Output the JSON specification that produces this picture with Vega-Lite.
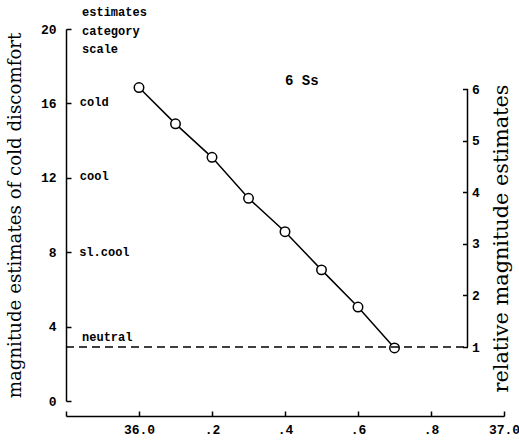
{
  "$schema": "https://vega.github.io/schema/vega-lite/v6.json",
  "width": 438,
  "height": 372,
  "autosize": {"type": "none"},
  "padding": {"left": 66, "top": 29, "right": 15, "bottom": 44},
  "background": "white",
  "config": {
    "view": {"stroke": null},
    "axis": {
      "grid": false,
      "domainColor": "black",
      "tickColor": "black",
      "labelColor": "black",
      "titleColor": "black",
      "labelFont": "Liberation Mono",
      "labelFontSize": 13,
      "labelFontWeight": "bold",
      "domainWidth": 1.5,
      "tickWidth": 1.5
    }
  },
  "datasets": {
    "points": [
      {"x": 36.0, "y": 16.85},
      {"x": 36.1, "y": 14.9},
      {"x": 36.2, "y": 13.1},
      {"x": 36.3, "y": 10.9},
      {"x": 36.4, "y": 9.1},
      {"x": 36.5, "y": 7.05},
      {"x": 36.6, "y": 5.05},
      {"x": 36.7, "y": 2.85}
    ],
    "labels": [
      {"x": 35.844, "y": 20.9, "label": "estimates"},
      {"x": 35.844, "y": 19.9, "label": "category"},
      {"x": 35.844, "y": 18.95, "label": "scale"},
      {"x": 35.838, "y": 16.1, "label": "cold"},
      {"x": 35.838, "y": 12.1, "label": "cool"},
      {"x": 35.836, "y": 8.0, "label": "sl.cool"},
      {"x": 35.844, "y": 3.45, "label": "neutral"}
    ],
    "note": [
      {"x": 36.4, "y": 17.2, "label": "6 Ss"}
    ],
    "ref": [
      {"x": 35.8, "x2": 36.9, "rel": 1}
    ],
    "raxis": [
      {"x": 36.9, "rel": 1, "rel2": 6}
    ]
  },
  "resolve": {"scale": {"y": "independent"}},
  "layer": [
    {
      "encoding": {
        "x": {
          "field": "x",
          "type": "quantitative",
          "scale": {"domain": [35.8, 37.0], "nice": false, "zero": false},
          "axis": {
            "orient": "bottom",
            "offset": 15,
            "values": [35.8, 36.0, 36.2, 36.4, 36.6, 36.8, 37.0],
            "labelExpr": "datum.value < 35.9 ? '' : datum.value == 36 ? '36.0' : datum.value == 37 ? '37.0' : replace(format(datum.value, '.1f'), '36', '')",
            "tickSize": -5,
            "labelPadding": 12,
            "labelFlush": false,
            "labelOverlap": false,
            "title": null
          }
        },
        "y": {
          "field": "y",
          "type": "quantitative",
          "scale": {"domain": [0, 20], "nice": false, "zero": false},
          "axis": {
            "orient": "left",
            "values": [0, 4, 8, 12, 16, 20],
            "tickSize": -5,
            "labelPadding": 15,
            "title": "magnitude estimates of cold discomfort",
            "titleFont": "DejaVu Serif",
            "titleFontSize": 18.2,
            "titleFontWeight": "normal",
            "titleAngle": 270,
            "titleAlign": "center",
            "titleBaseline": "middle",
            "titleX": -51,
            "titleY": 186
          }
        }
      },
      "layer": [
        {
          "data": {"name": "points"},
          "mark": {"type": "line", "color": "black", "strokeWidth": 1.5}
        },
        {
          "data": {"name": "points"},
          "mark": {"type": "point", "shape": "circle", "filled": false, "fill": "white", "fillOpacity": 1, "stroke": "black", "strokeWidth": 1.5, "size": 90, "opacity": 1}
        },
        {
          "data": {"name": "labels"},
          "mark": {"type": "text", "align": "left", "baseline": "middle", "font": "Liberation Mono", "fontSize": 12, "fontWeight": "bold", "color": "black"},
          "encoding": {"text": {"field": "label"}}
        },
        {
          "data": {"name": "note"},
          "mark": {"type": "text", "align": "left", "baseline": "middle", "font": "Liberation Mono", "fontSize": 14, "fontWeight": "bold", "color": "black"},
          "encoding": {"text": {"field": "label"}}
        }
      ]
    },
    {
      "encoding": {
        "x": {"field": "x", "type": "quantitative", "scale": {"domain": [35.8, 37.0], "nice": false, "zero": false}},
        "y": {
          "field": "rel",
          "type": "quantitative",
          "scale": {"domain": [1, 6], "range": [318, 60], "nice": false, "zero": false},
          "axis": {
            "orient": "right",
            "offset": -36.5,
            "domain": false,
            "values": [1, 2, 3, 4, 5, 6],
            "tickSize": -5,
            "labelPadding": 9,
            "title": "relative magnitude estimates",
            "titleFont": "DejaVu Serif",
            "titleFontSize": 20.8,
            "titleFontWeight": "normal",
            "titleAngle": 270,
            "titleAlign": "center",
            "titleBaseline": "middle",
            "titleX": 34,
            "titleY": 209
          }
        }
      },
      "layer": [
        {
          "data": {"name": "ref"},
          "mark": {"type": "rule", "strokeDash": [8, 5], "strokeWidth": 1.5, "color": "black"},
          "encoding": {"x2": {"field": "x2"}}
        },
        {
          "data": {"name": "raxis"},
          "mark": {"type": "rule", "strokeWidth": 1.5, "color": "black"},
          "encoding": {"y2": {"field": "rel2"}}
        }
      ]
    }
  ]
}
